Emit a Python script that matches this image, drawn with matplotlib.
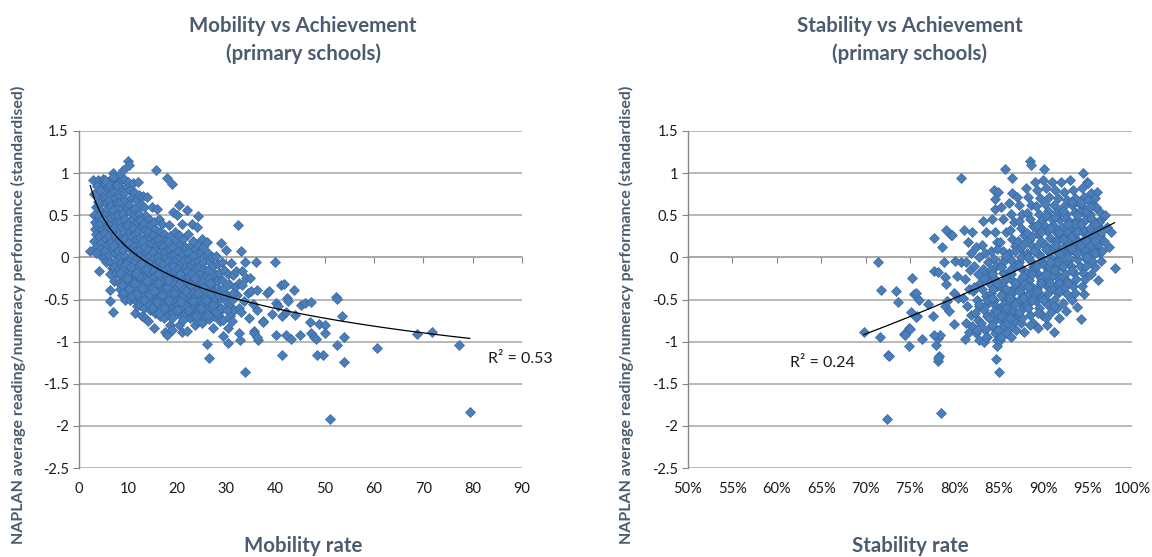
import numpy as np
import matplotlib.pyplot as plt
from matplotlib.ticker import FuncFormatter

plt.rcParams['font.family'] = ['Lato', 'DejaVu Sans']

# Mobility rate (%) per school
mob_x = [
    2.4, 3.0, 3.2, 3.5, 3.1, 3.4, 3.3, 3.6, 3.2, 3.5, 3.8,
    4.1, 4.0, 4.3, 4.6, 4.2, 4.5, 4.1, 4.4, 4.7, 4.2, 4.5, 4.3, 4.6, 4.1,
    5.0, 5.3, 5.6, 5.2, 5.5, 5.8, 5.1, 5.4, 5.7, 5.2, 5.5, 5.8, 5.1, 5.4, 5.6,
    6.4, 6.4, 6.0, 6.3, 6.6, 6.2, 6.5, 6.8, 6.1, 6.4, 6.7, 6.2, 6.5, 6.8, 6.1, 6.4, 6.7, 6.3,
    7.1, 7.0, 7.3, 7.6, 7.2, 7.5, 7.8, 7.1, 7.4, 7.7, 7.2, 7.5, 7.8, 7.1, 7.4, 7.7, 7.3, 7.6, 7.2,
    8.0, 8.3, 8.6, 8.2, 8.5, 8.8, 8.1, 8.4, 8.7, 8.2, 8.5, 8.8, 8.1, 8.4, 8.7, 8.3, 8.6, 8.2, 8.5, 8.8,
    9.0, 9.3, 9.6, 9.2, 9.5, 9.8, 9.1, 9.4, 9.7, 9.2, 9.5, 9.8, 9.1, 9.4, 9.7, 9.3, 9.6, 9.2, 9.5, 9.8, 9.4,
    10.1, 10.3, 10.0, 10.4, 10.7, 10.2, 10.5, 10.8, 10.1, 10.4, 10.7, 10.2, 10.5, 10.8, 10.1, 10.4, 10.7, 10.3, 10.6, 10.2, 10.5,
    11.0, 11.3, 11.6, 11.2, 11.5, 11.8, 11.1, 11.4, 11.7, 11.2, 11.5, 11.8, 11.1, 11.4, 11.7, 11.3, 11.6, 11.2, 11.5, 11.4, 11.8,
    12.0, 12.3, 12.6, 12.2, 12.5, 12.8, 12.1, 12.4, 12.7, 12.2, 12.5, 12.8, 12.1, 12.4, 12.7, 12.3, 12.6, 12.2, 12.5, 12.8,
    13.0, 13.3, 13.6, 13.2, 13.5, 13.8, 13.1, 13.4, 13.7, 13.2, 13.5, 13.8, 13.1, 13.4, 13.7, 13.3, 13.6, 13.2, 13.5,
    14.0, 14.3, 14.6, 14.2, 14.5, 14.8, 14.1, 14.4, 14.7, 14.2, 14.5, 14.8, 14.1, 14.4, 14.7, 14.3, 14.6, 14.2,
    15.0, 15.3, 15.6, 15.2, 15.5, 15.8, 15.1, 15.4, 15.7, 15.2, 15.5, 15.8, 15.1, 15.4, 15.7, 15.3, 15.6, 15.4,
    15.8, 16.0, 16.3, 16.6, 16.2, 16.5, 16.8, 16.1, 16.4, 16.7, 16.2, 16.5, 16.8, 16.1, 16.4, 16.7, 16.3, 16.6,
    17.0, 17.3, 17.6, 17.2, 17.5, 17.8, 17.1, 17.4, 17.7, 17.2, 17.5, 17.8, 17.1, 17.4, 17.7, 17.3, 17.6,
    18.0, 18.3, 18.6, 18.2, 18.5, 18.8, 18.1, 18.4, 18.7, 18.2, 18.5, 18.8, 18.1, 18.4, 18.7, 18.3, 18.6, 18.0,
    19.0, 19.2, 19.5, 19.8, 19.1, 19.4, 19.7, 19.2, 19.5, 19.8, 19.1, 19.4, 19.7, 19.3, 19.6, 19.2, 19.0,
    20.0, 20.3, 20.6, 20.2, 20.5, 20.8, 20.1, 20.4, 20.7, 20.2, 20.5, 20.8, 20.1, 20.4, 20.7, 20.3,
    20.4, 21.0, 21.3, 21.6, 21.2, 21.5, 21.8, 21.1, 21.4, 21.7, 21.2, 21.5, 21.8, 21.1, 21.4, 21.1,
    22.0, 22.3, 22.6, 22.2, 22.5, 22.8, 22.1, 22.4, 22.7, 22.2, 22.5, 22.8, 22.1, 22.4, 22.7, 22.0,
    23.0, 23.3, 23.6, 23.2, 23.5, 23.8, 23.1, 23.4, 23.7, 23.2, 23.5, 23.8, 23.1, 23.4, 23.7,
    24.3, 24.0, 24.3, 24.6, 24.2, 24.5, 24.8, 24.1, 24.4, 24.7, 24.2, 24.5, 24.8, 24.1,
    25.0, 25.3, 25.6, 25.2, 25.5, 25.8, 25.1, 25.4, 25.7, 25.2, 25.5, 25.8, 25.1,
    26.0, 26.3, 26.6, 26.2, 26.5, 26.8, 26.1, 26.4, 26.7, 26.2, 26.5, 26.0, 26.4,
    27.0, 27.3, 27.6, 27.2, 27.5, 27.8, 27.1, 27.4, 27.3,
    28.0, 28.3, 28.6, 28.2, 28.5, 28.8, 28.1, 28.4, 28.7,
    28.9, 29.2, 29.5, 29.1, 29.4, 29.7, 29.0, 29.3, 29.4,
    30.0, 30.3, 30.6, 30.2, 30.5, 30.8, 30.3, 30.3,
    31.0, 31.3, 31.8, 31.2, 31.5, 31.1,
    32.3, 32.0, 32.6, 32.2, 32.5, 32.6, 32.9, 33.1, 33.2, 33.5, 33.0, 32.7,
    33.8, 34.0, 34.3, 34.6, 33.8, 34.9, 35.0, 35.4, 35.6, 36.0, 36.2, 36.4, 36.2, 35.6, 36.2, 37.4, 37.5,
    38.2, 38.6, 39.2, 39.8, 40.0, 40.0, 40.4, 41.0, 41.2, 41.3, 41.8, 42.1, 42.1, 42.3, 42.5,
    43.1, 43.8, 44.0, 44.9, 45.2, 45.9, 47.0, 47.1, 47.2, 47.7, 48.1, 48.3, 48.8, 49.6, 50.1,
    50.1, 51.0, 52.2, 52.4, 52.4, 53.4, 53.9, 53.9, 60.5, 68.7, 71.8, 77.2, 79.4,
    # denser lower half of the main cloud
    3.7, 4.8, 3.9, 5.9, 4.9, 3.6, 4.4, 5.3, 6.9, 7.9,
    8.4, 8.9, 9.1, 9.9, 10.3, 10.9, 11.3, 11.9, 12.3, 12.9, 13.3, 13.9, 14.4, 14.9,
    9.6, 10.6, 11.6, 12.6, 13.6,
    15.3, 15.9, 16.3, 16.9, 17.3, 17.9, 18.3, 18.9, 19.3, 19.9, 20.3, 20.9, 21.3, 21.9,
    22.3, 22.9, 23.3, 23.9, 24.3, 24.9, 25.3, 25.9, 26.3, 26.9, 27.3, 27.9, 28.3, 28.9,
    29.6, 30.1, 31.4, 16.1, 18.1, 20.6, 23.6, 26.6,
]
# NAPLAN standardised score for the same schools
mob_y = [
    0.07, 0.92, 0.75, 0.60, 0.50, 0.42, 0.34, 0.28, 0.20, 0.12, 0.38,
    -0.16, 0.92, 0.84, 0.70, 0.62, 0.55, 0.47, 0.40, 0.33, 0.25, 0.17, 0.10, 0.02, 0.50,
    0.93, 0.87, 0.80, 0.72, 0.65, 0.57, 0.50, 0.43, 0.36, 0.29, 0.22, 0.15, 0.08, 0.01, -0.06,
    -0.39, -0.52, 0.90, 0.83, 0.76, 0.68, 0.61, 0.53, 0.46, 0.39, 0.32, 0.25, 0.18, 0.10, 0.03, -0.05, -0.13, -0.20,
    -0.65, 1.00, 0.94, 0.86, 0.78, 0.71, 0.64, 0.56, 0.49, 0.42, 0.35, 0.27, 0.20, 0.13, 0.05, -0.03, -0.11, -0.19, -0.28,
    0.97, 0.90, 0.82, 0.74, 0.66, 0.58, 0.50, 0.43, 0.36, 0.28, 0.21, 0.14, 0.07, 0.00, -0.07, -0.14, -0.22, -0.30, -0.37, -0.45,
    1.04, 0.93, 0.84, 0.76, 0.68, 0.60, 0.52, 0.45, 0.38, 0.30, 0.23, 0.16, 0.09, 0.02, -0.05, -0.12, -0.20, -0.28, -0.35, -0.43, -0.50,
    1.14, 1.10, 0.90, 0.80, 0.70, 0.62, 0.54, 0.46, 0.38, 0.31, 0.24, 0.17, 0.10, 0.03, -0.04, -0.11, -0.18, -0.26, -0.34, -0.42, -0.50,
    0.88, 0.78, 0.68, 0.58, 0.50, 0.42, 0.35, 0.28, 0.21, 0.14, 0.07, 0.00, -0.07, -0.14, -0.21, -0.28, -0.35, -0.43, -0.51, -0.66, -0.58,
    0.90, 0.74, 0.62, 0.52, 0.44, 0.37, 0.30, 0.23, 0.16, 0.09, 0.02, -0.05, -0.12, -0.19, -0.26, -0.33, -0.40, -0.48, -0.56, -0.70,
    0.73, 0.60, 0.49, 0.41, 0.33, 0.26, 0.19, 0.12, 0.05, -0.02, -0.09, -0.16, -0.23, -0.30, -0.37, -0.44, -0.52, -0.60, -0.72,
    0.72, 0.45, 0.38, 0.30, 0.23, 0.16, 0.09, 0.02, -0.05, -0.12, -0.19, -0.26, -0.33, -0.40, -0.48, -0.56, -0.63, -0.76,
    0.60, 0.42, 0.34, 0.27, 0.20, 0.13, 0.06, -0.01, -0.08, -0.15, -0.22, -0.29, -0.36, -0.43, -0.50, -0.58, -0.66, -0.84,
    1.04, 0.58, 0.46, 0.30, 0.22, 0.15, 0.08, 0.01, -0.06, -0.13, -0.20, -0.27, -0.34, -0.41, -0.48, -0.55, -0.62, -0.70,
    0.40, 0.28, 0.20, 0.13, 0.06, -0.01, -0.08, -0.15, -0.22, -0.29, -0.36, -0.43, -0.50, -0.57, -0.64, -0.72, -0.88,
    0.94, 0.38, 0.25, 0.18, 0.10, 0.03, -0.04, -0.11, -0.18, -0.25, -0.32, -0.39, -0.46, -0.53, -0.60, -0.68, -0.80, -0.92,
    0.87, 0.54, 0.30, 0.20, 0.12, 0.04, -0.03, -0.10, -0.17, -0.24, -0.31, -0.38, -0.45, -0.52, -0.59, -0.66, -0.86,
    0.50, 0.26, 0.15, 0.07, 0.00, -0.07, -0.14, -0.21, -0.28, -0.35, -0.42, -0.49, -0.56, -0.63, -0.70, -0.80,
    0.62, 0.40, 0.22, 0.12, 0.04, -0.03, -0.10, -0.17, -0.24, -0.31, -0.38, -0.45, -0.52, -0.60, -0.68, -0.88,
    0.56, 0.28, 0.14, 0.06, -0.02, -0.09, -0.16, -0.23, -0.30, -0.37, -0.44, -0.51, -0.58, -0.65, -0.72, -0.87,
    0.40, 0.20, 0.10, 0.02, -0.06, -0.13, -0.20, -0.27, -0.34, -0.41, -0.48, -0.55, -0.62, -0.70, -0.80,
    0.49, 0.36, 0.15, 0.05, -0.04, -0.12, -0.20, -0.28, -0.36, -0.44, -0.52, -0.60, -0.68, -0.76,
    0.22, 0.12, 0.02, -0.06, -0.14, -0.22, -0.30, -0.38, -0.46, -0.54, -0.62, -0.70, -0.78,
    0.18, 0.05, -0.05, -0.15, -0.25, -0.33, -0.41, -0.49, -0.57, -0.65, -0.73, -1.03, -1.20,
    0.00, -0.10, -0.20, -0.30, -0.40, -0.50, -0.60, -0.70, -0.84,
    0.02, -0.08, -0.18, -0.28, -0.38, -0.48, -0.58, -0.68, -0.76,
    0.17, -0.05, -0.15, -0.27, -0.37, -0.50, -0.62, -0.74, -0.93,
    0.09, -0.20, -0.32, -0.45, -0.57, -0.70, -0.84, -1.02,
    -0.07, -0.21, -0.35, -0.50, -0.62, -0.75,
    0.38, -0.16, -0.30, -0.45, -0.60, -0.90, 0.07, -0.16, -0.33, -0.52, -0.65, -0.98,
    -0.06, -0.25, -0.42, -0.72, -1.36, -0.25, -0.40, -0.55, -0.87, -0.06, -0.39, -0.98, -0.63, -0.90, -0.94, -0.75, -0.77,
    -0.42, -0.40, -0.67, -0.06, -0.54, -0.92, -0.58, -0.33, -1.16, -0.69, -0.32, -0.65, -0.92, -0.48, -0.52,
    -0.97, -0.39, -0.68, -0.92, -0.56, -0.54, -0.77, -0.90, -0.53, -0.94, -0.97, -1.16, -0.79, -1.16, -0.80,
    -0.90, -1.92, -0.47, -0.49, -1.04, -0.69, -0.94, -1.24, -1.07, -0.91, -0.88, -1.04, -1.84,
    0.85, 0.78, 0.66, 0.88, 0.45, 0.05, 0.80, 0.92, 0.95, 0.86,
    -0.18, -0.33, -0.42, -0.25, -0.38, -0.46, -0.30, -0.44, -0.22, -0.36, -0.50, -0.28, -0.44, -0.60,
    -0.08, -0.12, -0.18, -0.08, -0.14,
    -0.40, -0.53, -0.66, -0.45, -0.60, -0.35, -0.50, -0.72, -0.42, -0.62, -0.32, -0.53, -0.74, -0.40,
    -0.62, -0.33, -0.52, -0.70, -0.42, -0.60, -0.35, -0.50, -0.68, -0.42, -0.56, -0.65, -0.44, -0.60,
    -0.45, -0.62, -0.42, -0.30, -0.27, -0.20, -0.24, -0.30,
]

# Stability rate (%) per school
stab_x = [
    69.8, 71.4, 71.7, 71.6, 72.4, 72.5, 72.6, 73.4, 73.7, 74.3, 74.4, 74.9, 74.9, 75.0,
    75.1, 75.2, 75.4, 75.7, 75.8, 76.0, 76.3, 75.7, 77.0, 77.6, 77.7, 77.7, 77.9, 78.2,
    78.3, 78.2, 78.4, 78.1, 77.7, 78.2, 78.5, 78.6, 78.8, 78.9, 78.9, 79.0, 79.0, 79.2,
    79.4, 79.6, 79.7, 79.9, 79.9, 80.0, 80.3, 80.7, 80.7, 80.4,
    81.1, 81.5, 81.8, 81.3, 81.7, 81.2, 81.6, 81.0, 81.4, 81.8, 81.3, 81.6, 81.2,
    82.0, 82.4, 82.7, 82.2, 82.6, 82.9, 82.1, 82.5, 82.8, 82.3, 82.6, 82.0, 82.4, 82.7,
    83.2, 83.5, 83.1, 83.4, 83.8, 83.2, 83.6, 83.9, 83.1, 83.5, 83.8, 83.3, 83.6, 83.0, 83.4, 83.7, 83.3,
    84.4, 84.6, 84.6, 84.2, 84.5, 84.8, 84.1, 84.4, 84.7, 84.2, 84.5, 84.8, 84.1, 84.4, 84.7, 84.3, 84.6, 84.2, 84.5, 84.8, 84.8,
    84.9, 85.2, 85.5, 85.8, 85.1, 85.4, 85.7, 85.2, 85.5, 85.8, 85.1, 85.4, 85.7, 85.3, 85.6, 85.2, 85.5, 85.8, 85.1, 84.7, 85.0,
    85.7, 86.5, 86.1, 86.4, 86.7, 86.2, 86.5, 86.8, 86.1, 86.4, 86.7, 86.2, 86.5, 86.8, 86.3, 86.6, 86.2, 86.5, 86.8, 86.3, 86.4,
    86.5, 87.0, 87.3, 87.6, 87.2, 87.5, 87.8, 87.1, 87.4, 87.7, 87.2, 87.5, 87.8, 87.1, 87.4, 87.7, 87.3, 87.6, 87.2, 87.5, 87.8,
    88.5, 88.6, 88.0, 88.3, 88.6, 88.2, 88.5, 88.8, 88.1, 88.4, 88.7, 88.2, 88.5, 88.8, 88.1, 88.4, 88.7, 88.3, 88.6, 88.2, 88.5, 88.8,
    89.0, 89.3, 89.6, 89.2, 89.5, 89.8, 89.1, 89.4, 89.7, 89.2, 89.5, 89.8, 89.1, 89.4, 89.7, 89.3, 89.6, 89.2, 89.5, 89.8, 89.4,
    90.1, 90.0, 90.3, 90.6, 90.2, 90.5, 90.8, 90.1, 90.4, 90.7, 90.2, 90.5, 90.8, 90.1, 90.4, 90.7, 90.3, 90.6, 90.2, 90.5, 90.8, 90.4,
    91.0, 91.3, 91.6, 91.2, 91.5, 91.8, 91.1, 91.4, 91.7, 91.2, 91.5, 91.8, 91.1, 91.4, 91.7, 91.3, 91.6, 91.2, 91.5, 91.8, 91.2,
    92.0, 92.3, 92.6, 92.2, 92.5, 92.8, 92.1, 92.4, 92.7, 92.2, 92.5, 92.8, 92.1, 92.4, 92.7, 92.3, 92.6, 92.2, 92.5,
    93.0, 93.3, 93.6, 93.2, 93.5, 93.8, 93.1, 93.4, 93.7, 93.2, 93.5, 93.8, 93.1, 93.4, 93.7, 93.3, 93.6, 93.2, 93.8,
    94.5, 94.3, 94.6, 94.2, 94.5, 94.8, 94.1, 94.4, 94.7, 94.2, 94.5, 94.8, 94.1, 94.4, 94.7, 94.3, 94.6, 94.2,
    94.9, 95.0, 95.3, 95.6, 95.2, 95.5, 95.8, 95.1, 95.4, 95.7, 95.2, 95.5, 95.8, 95.3,
    96.0, 96.3, 96.5, 96.2, 96.4, 96.1, 96.3, 96.5, 96.1,
    97.6, 97.4, 96.6, 98.0,
    # denser lower-left and upper-right of the main cloud
    82.2, 82.8, 83.3, 83.7, 83.9, 84.3, 84.6, 84.9, 85.3, 85.6, 85.9, 86.2, 86.6, 86.9,
    82.5, 83.5, 85.2, 84.1, 85.4, 86.4,
    87.3, 87.6, 87.9, 88.2, 88.5, 88.8, 89.1, 89.4, 89.7, 90.0, 90.3, 90.6, 90.9, 91.2,
    91.5, 91.8, 87.5, 88.9, 90.2, 91.4,
    92.3, 92.6, 92.9, 93.2, 93.5, 93.8, 94.1, 94.4, 94.7, 95.0, 95.3, 95.6, 95.9, 96.2,
    96.5, 96.8, 96.9, 97.2, 95.8, 94.9,
    # core band around the trend
    84.25, 84.25, 84.25, 84.75, 84.75, 84.75, 85.25, 85.25, 85.25, 85.75, 85.75, 85.75,
    86.25, 86.25, 86.25, 86.75, 86.75, 86.75, 87.25, 87.25, 87.25, 87.75, 87.75, 87.75,
    88.25, 88.25, 88.25, 88.75, 88.75, 88.75, 89.25, 89.25, 89.25, 89.75, 89.75, 89.75,
    90.25, 90.25, 90.25, 90.75, 90.75, 90.75, 91.25, 91.25, 91.25, 91.75, 91.75, 91.75,
    92.25, 92.25, 92.25, 92.75, 92.75, 92.75, 93.25, 93.25, 93.25, 93.75, 93.75, 93.75,
    94.25, 94.25, 94.25, 94.75, 94.75, 94.75, 95.25, 95.25, 95.25, 95.75, 95.75, 95.75,
]
stab_y = [
    -0.89, -0.06, -0.39, -0.94, -1.92, -1.16, -1.17, -0.40, -0.53, -0.91, -0.92, -0.84, -1.05, -0.85,
    -0.65, -0.25, -0.44, -0.42, -0.69, -0.51, -0.97, -0.71, -0.55, -0.70, 0.23, -0.16, -1.04, -0.96,
    -1.17, -1.23, -0.92, -1.20, -0.92, -0.17, -1.85, 0.12, -0.06, -0.23, -0.58, 0.33, -0.32, -0.52,
    -0.64, 0.27, 0.26, -0.79, -0.42, -0.04, -0.22, 0.94, -0.06, -0.48,
    0.33, 0.18, 0.05, -0.05, -0.15, -0.26, -0.37, -0.48, -0.58, -0.68, -0.78, -0.88, -0.97,
    0.30, 0.12, 0.00, -0.10, -0.20, -0.30, -0.40, -0.50, -0.58, -0.66, -0.74, -0.82, -0.90, -0.98,
    0.43, 0.30, 0.15, 0.05, -0.05, -0.14, -0.22, -0.30, -0.38, -0.46, -0.54, -0.62, -0.70, -0.78, -0.86, -0.94, -1.00,
    0.80, 0.69, 0.58, 0.45, 0.30, 0.18, 0.08, -0.02, -0.10, -0.18, -0.26, -0.34, -0.42, -0.50, -0.58, -0.66, -0.74, -0.82, -0.90, -0.98, -1.05,
    0.78, 0.60, 0.45, 0.30, 0.18, 0.08, -0.02, -0.10, -0.18, -0.26, -0.34, -0.42, -0.50, -0.58, -0.66, -0.74, -0.82, -0.90, -0.98, -1.21, -1.36,
    1.05, 0.76, 0.64, 0.52, 0.42, 0.32, 0.22, 0.13, 0.05, -0.03, -0.11, -0.19, -0.27, -0.35, -0.43, -0.51, -0.59, -0.67, -0.75, -0.83, -0.94,
    0.94, 0.72, 0.62, 0.52, 0.43, 0.35, 0.27, 0.19, 0.11, 0.03, -0.05, -0.13, -0.21, -0.29, -0.37, -0.45, -0.53, -0.61, -0.69, -0.78, -0.88,
    1.14, 1.10, 0.82, 0.72, 0.62, 0.53, 0.45, 0.37, 0.29, 0.21, 0.13, 0.05, -0.03, -0.11, -0.19, -0.27, -0.35, -0.43, -0.51, -0.59, -0.68, -0.78,
    0.90, 0.80, 0.70, 0.61, 0.52, 0.44, 0.36, 0.28, 0.20, 0.12, 0.04, -0.04, -0.12, -0.20, -0.28, -0.36, -0.44, -0.52, -0.60, -0.68, -0.84,
    1.05, 0.92, 0.82, 0.72, 0.63, 0.55, 0.47, 0.39, 0.31, 0.23, 0.15, 0.07, -0.01, -0.09, -0.17, -0.25, -0.33, -0.41, -0.49, -0.57, -0.65, -0.80,
    0.90, 0.80, 0.70, 0.62, 0.54, 0.46, 0.38, 0.30, 0.22, 0.14, 0.06, -0.02, -0.10, -0.18, -0.26, -0.34, -0.42, -0.50, -0.60, -0.72, -0.88,
    0.90, 0.78, 0.68, 0.60, 0.52, 0.44, 0.36, 0.28, 0.20, 0.12, 0.04, -0.04, -0.12, -0.20, -0.28, -0.36, -0.44, -0.54, -0.64,
    0.92, 0.80, 0.70, 0.62, 0.54, 0.46, 0.38, 0.30, 0.22, 0.14, 0.06, -0.02, -0.10, -0.18, -0.26, -0.34, -0.42, -0.50, -0.59,
    1.00, 0.82, 0.72, 0.62, 0.54, 0.46, 0.38, 0.30, 0.22, 0.14, 0.06, -0.02, -0.10, -0.18, -0.26, -0.34, -0.44, -0.73,
    0.90, 0.88, 0.76, 0.62, 0.52, 0.44, 0.36, 0.28, 0.20, 0.12, 0.04, -0.04, -0.12, -0.20,
    0.78, 0.55, 0.45, 0.36, 0.26, 0.16, 0.06, -0.04, -0.27,
    0.30, 0.12, 0.08, -0.13,
    -0.35, -0.55, -0.26, -0.50, -0.72, -0.38, -0.62, -0.86, -0.30, -0.55, -0.78, -0.40, -0.63, -0.86,
    -0.86, -0.95, -0.95, -0.15, -0.06, -0.20,
    -0.50, -0.72, -0.30, -0.56, -0.80, -0.15, -0.44, -0.66, -0.25, -0.50, -0.72, -0.10, -0.36, -0.58,
    -0.05, -0.30, 0.00, 0.08, 0.15, 0.20,
    0.48, 0.30, 0.12, 0.66, 0.40, 0.20, 0.55, 0.34, 0.10, 0.68, 0.47, 0.26, 0.60, 0.42,
    0.30, 0.20, 0.50, 0.36, 0.05, 0.00,
    -0.48, -0.20, -0.80, -0.30, -0.65, 0.10, -0.45, -0.12, -0.70, -0.38, -0.60, 0.02,
    -0.48, -0.15, -0.72, -0.30, -0.55, 0.08, -0.40, -0.10, -0.65, -0.22, -0.48, 0.15,
    -0.35, 0.00, -0.60, -0.20, 0.25, -0.50, -0.10, 0.38, -0.40, 0.00, -0.30, 0.30,
    -0.20, 0.10, 0.50, -0.05, 0.35, -0.30, 0.15, -0.15, 0.48, 0.05, 0.30, -0.40,
    0.22, -0.10, 0.55, 0.00, 0.40, -0.30, 0.25, 0.10, -0.15, 0.50, 0.05, 0.30,
    0.40, 0.15, 0.65, 0.20, 0.55, -0.10, 0.35, 0.15, 0.60, 0.40, 0.70, 0.20,
]

y_ticks = [-2.5, -2, -1.5, -1, -0.5, 0, 0.5, 1, 1.5]
mob_ticks = [0, 10, 20, 30, 40, 50, 60, 70, 80, 90]
stab_ticks = [50, 55, 60, 65, 70, 75, 80, 85, 90, 95, 100]

TITLE_COL = '#4B5C70'
GRID_COL = '#A6A6A6'
AXIS_COL = '#868686'
FILL = '#4A7EBB'
EDGE = '#3A689E'

W, H = 1152, 557
fig = plt.figure(figsize=(W / 100, H / 100), dpi=100)


def make_axes(x0, x1):
    top, bottom = 131, 468
    return fig.add_axes([x0 / W, 1 - bottom / H, (x1 - x0) / W, (bottom - top) / H])


def style_axes(ax, xlim, xticks, fmt):
    ax.set_xlim(*xlim)
    ax.set_ylim(-2.5, 1.5)
    ax.set_yticks(y_ticks)
    ax.yaxis.set_major_formatter(FuncFormatter(lambda v, p: '%g' % v))
    ax.set_xticks(xticks)
    ax.xaxis.set_major_formatter(FuncFormatter(fmt))
    ax.yaxis.grid(True, color=GRID_COL, lw=1.1)
    ax.set_axisbelow(True)
    for s in ['top', 'right', 'bottom']:
        ax.spines[s].set_visible(False)
    ax.spines['left'].set_color(AXIS_COL)
    ax.spines['left'].set_linewidth(1.0)
    ax.tick_params(axis='y', length=4, width=0.8, color=AXIS_COL, labelsize=10.5,
                   labelcolor='#1a1a1a', pad=3)
    ax.tick_params(axis='x', length=0, labelsize=10.5, labelcolor='#1a1a1a', pad=10)
    # category axis crosses at y = 0, labels stay at the bottom
    sec = ax.secondary_xaxis(0.625)
    sec.set_xticks(xticks)
    sec.tick_params(direction='in', length=4, width=0.8, color=AXIS_COL, labeltop=False)
    for s in sec.spines.values():
        s.set_color(GRID_COL)
        s.set_linewidth(1.1)


ax1 = make_axes(78.5, 522)
ax2 = make_axes(687.8, 1132.3)

style_axes(ax1, (0, 90), mob_ticks, lambda v, p: '%d' % v)
style_axes(ax2, (50, 100), stab_ticks, lambda v, p: '%d%%' % v)

for ax, xs, ys in [(ax1, mob_x, mob_y), (ax2, stab_x, stab_y)]:
    ax.plot(xs, ys, ls='none', marker='D', ms=4.8, mfc=FILL, mec=EDGE, mew=0.5,
            zorder=3, clip_on=False)

# logarithmic trend for mobility
mx = np.array(mob_x)
coef = np.polyfit(np.log(mx), mob_y, 1)
tx = np.linspace(mx.min(), mx.max(), 200)
ax1.plot(tx, coef[0] * np.log(tx) + coef[1], color='black', lw=0.9, zorder=4)
ax1.text(83, -1.21, 'R² = 0.53', fontsize=11.5, va='center', ha='left', color='#1a1a1a')

# quadratic trend for stability
sx = np.array(stab_x)
coef2 = np.polyfit(sx, stab_y, 2)
tx2 = np.linspace(sx.min(), sx.max(), 200)
ax2.plot(tx2, np.polyval(coef2, tx2), color='black', lw=0.9, zorder=4)
ax2.text(61.5, -1.25, 'R² = 0.24', fontsize=11.5, va='center', ha='left', color='#1a1a1a')

# titles and axis titles
for cx, title, xlabel in [(303, 'Mobility vs Achievement\n(primary schools)', 'Mobility rate'),
                          (910, 'Stability vs Achievement\n(primary schools)', 'Stability rate')]:
    fig.text(cx / W, 1 - 40 / H, title, ha='center', va='center', fontsize=14.8,
             fontweight='bold', color=TITLE_COL, linespacing=1.4)
    fig.text(cx / W, 1 - 552 / H, xlabel, ha='center', va='baseline', fontsize=14.8,
             fontweight='bold', color=TITLE_COL)

for lx in [18, 626]:
    fig.text(lx / W, 1 - 315 / H,
             'NAPLAN average reading/numeracy performance (standardised)',
             rotation=90, ha='center', va='center', fontsize=11.5,
             fontweight='bold', color=TITLE_COL)

fig.savefig('out.png', dpi=100)
